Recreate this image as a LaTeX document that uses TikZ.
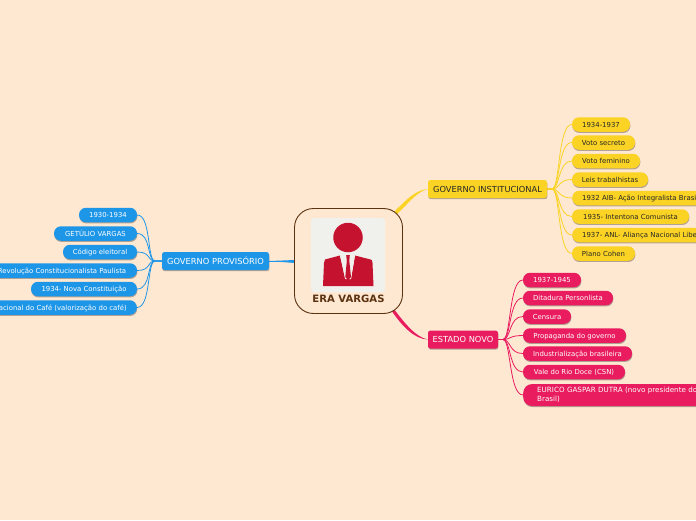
\documentclass[tikz,border=0pt]{standalone}
\usepackage{fontspec}
\setmainfont{DejaVu Sans}
\usetikzlibrary{shadows}
\pgfdeclarelayer{bottom}
\pgfdeclarelayer{wires}
\pgfsetlayers{bottom,wires,main}
\definecolor{bgc}{HTML}{FFE8D2}
\definecolor{bluec}{HTML}{1E96E8}
\definecolor{yelc}{HTML}{FBD324}
\definecolor{pinkc}{HTML}{E81C5F}
\definecolor{brownc}{HTML}{5C3311}
\definecolor{redc}{HTML}{C4122F}
\definecolor{imgc}{HTML}{F0F0EC}
\tikzset{
  shad/.style={drop shadow={shadow xshift=0.4pt,shadow yshift=-1.2pt,fill=black,opacity=.3}},
  mainbox/.style={shad,rounded corners=2.5pt,inner sep=0pt,minimum height=18pt,text height=6pt,text depth=0pt,font=\fontsize{8.3}{9}\selectfont},
  leafbox/.style={shad,rounded corners=7pt,inner sep=0pt,minimum height=14.5pt,text height=5pt,text depth=0pt,font=\fontsize{6.9}{9}\selectfont},
  bl/.style={fill=bluec,text=white},
  yl/.style={fill=yelc,text=black!85},
  pk/.style={fill=pinkc,text=white},
  wire/.style={line width=0.8pt},
}
\begin{document}
\begin{tikzpicture}[x=1pt,y=-1pt]
\useasboundingbox (0,0) rectangle (696,520);
\clip (0,0) rectangle (696,520);
\begin{pgfonlayer}{bottom}
\fill[bgc] (0,0) rectangle (696,520);
\end{pgfonlayer}
% central
\node[draw=brownc,line width=0.9pt,fill=bgc,rounded corners=19pt,minimum width=108pt,minimum height=105pt,inner sep=0pt] (c) at (348.5,261) {};
\node[fill=imgc,rounded corners=3pt,minimum width=74pt,minimum height=74pt,inner sep=0pt] (img) at (348,255) {};
\node[fill=redc,circle,minimum size=29.5pt,inner sep=0pt] (head) at (348,237.5) {};
\fill[redc] (325,259.5) -- (340,255.5) -- (345,279) -- (351,279) -- (355,255.5) -- (370.5,259.5) .. controls (372,260) .. (372.5,263) -- (373.5,286) -- (323,286) -- (324,263) .. controls (324,260.5) .. (325,259.5) -- cycle;
\fill[imgc] (340,255.5) -- (345.5,279) -- (347,279) -- (346.5,255.5) -- cycle;
\fill[imgc] (349.5,255.5) -- (349,279) -- (351,279) -- (355,255.5) -- cycle;
\fill[redc] (346.2,255) -- (349.8,255) -- (349.3,261) -- (351,277) -- (348,280) -- (345.3,277) -- (346.8,261) -- cycle;
\node[text=brownc,inner sep=0pt,font=\bfseries\fontsize{10.1}{12}\selectfont] (title) at (348.5,299) {ERA VARGAS};
% main topics
\node[mainbox,bl,minimum width=107pt] (gp) at (215.5,261) {GOVERNO PROVISÓRIO};
\node[mainbox,yl,minimum width=119pt] (gi) at (487.5,189) {GOVERNO INSTITUCIONAL};
\node[mainbox,pk,minimum width=70pt] (en) at (463,339.5) {ESTADO NOVO};
\coordinate (hb) at (155,261);
\coordinate (hy) at (552,189);
\coordinate (hp) at (503,339.5);
% left leaves
\node[leafbox,bl,minimum width=58pt] (b1) at (108,215) {1930-1934};
\node[leafbox,bl,minimum width=83pt] (b2) at (95.5,233.5) {GETÚLIO VARGAS};
\node[leafbox,bl,minimum width=74pt] (b3) at (100,252) {Código eleitoral};
\node[leafbox,bl,minimum width=150pt] (b4) at (62,270.5) {Revolução Constitucionalista Paulista};
\node[leafbox,bl,minimum width=106pt] (b5) at (84,289) {1934- Nova Constituição};
\node[leafbox,bl,minimum width=210pt,anchor=east] (b6) at (137,307.5) {\makebox[190pt][r]{Conselho Nacional do Café (valorização do café)}};
% yellow leaves
\node[leafbox,yl,minimum width=58pt] (y1) at (601,124.5) {1934-1937};
\node[leafbox,yl,minimum width=63pt] (y2) at (603.5,142.5) {Voto secreto};
\node[leafbox,yl,minimum width=68pt] (y3) at (606,161) {Voto feminino};
\node[leafbox,yl,minimum width=76pt] (y4) at (610,179.5) {Leis trabalhistas};
\node[leafbox,yl,text width=190pt,align=left,anchor=west] (y5) at (572,198) {\hspace*{10pt}1932 AIB- Ação Integralista Brasileira};
\node[leafbox,yl,minimum width=117pt] (y6) at (630.5,216.5) {1935- Intentona Comunista};
\node[leafbox,yl,text width=190pt,align=left,anchor=west] (y7) at (572,235) {\hspace*{10pt}1937- ANL- Aliança Nacional Libertadora};
\node[leafbox,yl,minimum width=63pt] (y8) at (603.5,253.5) {Plano Cohen};
% pink leaves
\node[leafbox,pk,minimum width=58pt] (p1) at (552,280) {1937-1945};
\node[leafbox,pk,minimum width=90pt] (p2) at (568,298) {Ditadura Personlista};
\node[leafbox,pk,minimum width=48pt] (p3) at (547,316.5) {Censura};
\node[leafbox,pk,minimum width=103pt] (p4) at (574.5,335.5) {Propaganda do governo};
\node[leafbox,pk,minimum width=109pt] (p5) at (577.5,353.5) {Industrialização brasileira};
\node[leafbox,pk,minimum width=102pt] (p6) at (574,372) {Vale do Rio Doce (CSN)};
\node[leafbox,pk,text height=,text depth=,text width=215pt,align=left,anchor=west,rounded corners=9pt,minimum height=22pt,font=\fontsize{7.15}{9}\selectfont] (p7) at (523,395) {\hspace*{14pt}EURICO GASPAR DUTRA (novo presidente do\\\hspace*{14pt}Brasil)};
\begin{pgfonlayer}{wires}
% trunks
\coordinate (ty1) at (394,212); \coordinate (ty2) at (396.5,214.5);
\fill[yelc] (ty1) .. controls (405,201) and (415,190) .. (gi.west) .. controls (416,192) and (408,204) .. (ty2) -- cycle;
\coordinate (tp1) at (391,310); \coordinate (tp2) at (393.5,308.5);
\fill[pinkc] (tp1) .. controls (402,326) and (414,339) .. (en.west) .. controls (416,337) and (406,325) .. (tp2) -- cycle;
\coordinate (tb1) at (295,260); \coordinate (tb2) at (295,263);
\fill[bluec] (tb1) -- (gp.east) -- (tb2) -- cycle;
\draw[bluec,line width=0.7pt] (gp.east) -- (c.west);
% connectors
\foreach \n in {1,...,6}
  \draw[bluec,wire] (gp.west) -- (hb) .. controls +(-8,0) and +(14,0) .. (b\n.east);
\foreach \n in {1,...,8}
  \draw[yelc,wire] (gi.east) -- (hy) .. controls +(8,0) and +(-14,0) .. (y\n.west);
\foreach \n in {1,...,7}
  \draw[pinkc,wire] (en.east) -- (hp) .. controls +(8,0) and +(-14,0) .. (p\n.west);
\end{pgfonlayer}
\end{tikzpicture}
\end{document}
